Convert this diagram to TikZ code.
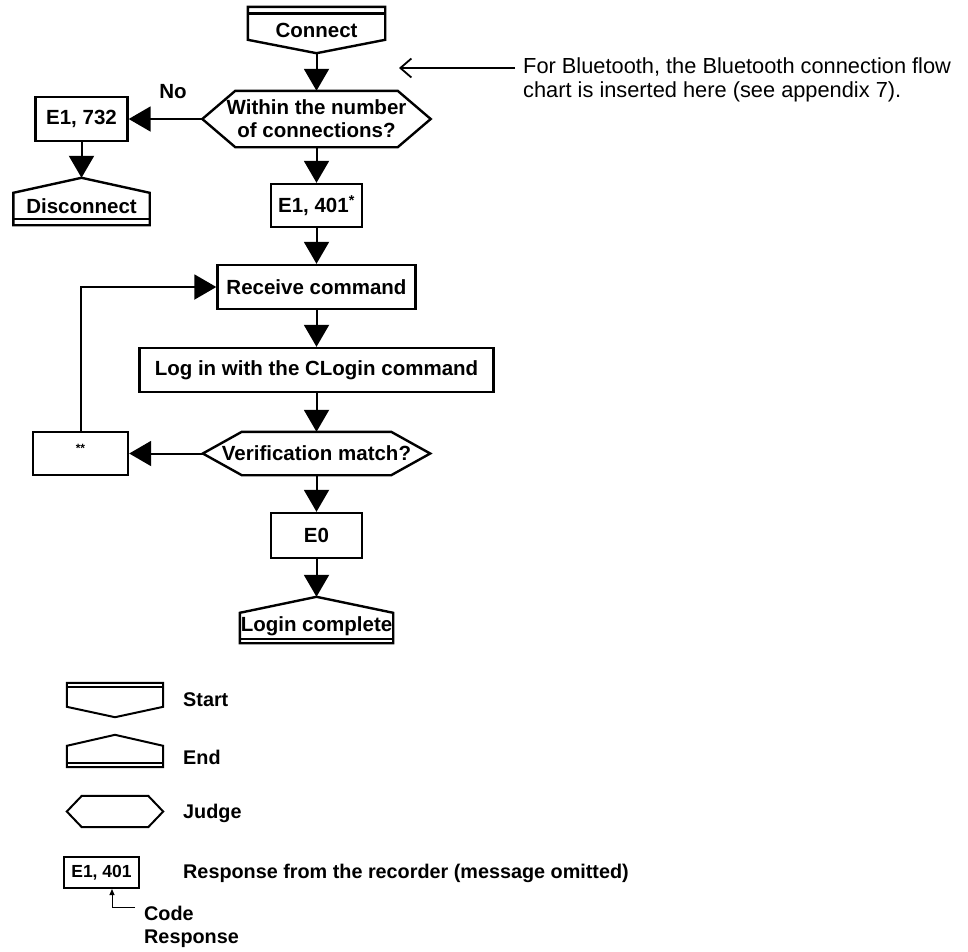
\documentclass[tikz,border=0pt]{standalone}
\usepackage{fontspec}
\setmainfont{Liberation Sans}
\usetikzlibrary{arrows.meta}
\begin{document}
\begin{tikzpicture}[x=1pt,y=-1pt,
  every node/.style={font=\bfseries\fontsize{20.5}{23}\selectfont},
  shp/.style={line width=2.4pt, line join=miter},
  box/.style={draw, line width=2.4pt, inner sep=0pt},
  txt/.style={inner sep=0pt},
  legtxt/.style={inner sep=0pt, anchor=west, font=\bfseries\fontsize{19.8}{23}\selectfont},
  arr/.style={line width=2pt, -{Triangle[length=22pt,width=25pt]}},
  lshp/.style={line width=2pt, line join=miter},
]
\useasboundingbox (0,0) rectangle (968,951);

% ---- Connect (start)
\node[txt, minimum width=137pt, minimum height=46pt] (connect) at (316.5,30) {Connect};
\draw[shp] (connect.north west) -- (connect.north east) -- ([yshift=-33pt]connect.north east)
  -- (connect.south) -- ([yshift=-33pt]connect.north west) -- cycle;
\draw[shp] ([yshift=-6.5pt]connect.north west) -- ([yshift=-6.5pt]connect.north east);

% ---- Within hexagon
\node[txt, align=center, minimum width=228pt, minimum height=56pt] (within) at (316.5,119)
  {Within the number\\of connections?};
\draw[shp] (within.west) -- ([xshift=33pt]within.north west) -- ([xshift=-33pt]within.north east)
  -- (within.east) -- ([xshift=-33pt]within.south east) -- ([xshift=33pt]within.south west) -- cycle;

% ---- E1, 732
\node[box, minimum width=92pt, minimum height=44pt] (e1732) at (81.5,119) {E1, 732};
\node[txt] (no) at (173,92) {No};

% ---- Disconnect (end)
\node[txt, minimum width=136pt, minimum height=26pt] (disc) at (81.5,206) {Disconnect};
\draw[shp] ([yshift=15pt]disc.north) -- (disc.north east) -- ([yshift=-6pt]disc.south east)
  -- ([yshift=-6pt]disc.south west) -- (disc.north west) -- cycle;
\draw[shp] (disc.south west) -- (disc.south east);

% ---- E1, 401*
\node[box, minimum width=91pt, minimum height=43pt] (e1401) at (316.5,205.5) {E1, 401\textsuperscript{*}};

% ---- Receive command
\node[box, minimum width=198pt, minimum height=44pt] (receive) at (316.5,287) {Receive command};

% ---- Log in
\node[box, minimum width=354pt, minimum height=44pt] (login) at (316.5,370) {Log in with the CLogin command};

% ---- Verification hexagon
\node[txt, minimum width=227pt, minimum height=43pt] (verif) at (316.5,453.5) {Verification match?};
\draw[shp] (verif.west) -- ([xshift=39pt]verif.north west) -- ([xshift=-39pt]verif.north east)
  -- (verif.east) -- ([xshift=-39pt]verif.south east) -- ([xshift=39pt]verif.south west) -- cycle;

% ---- ** box
\node[box, minimum width=95pt, minimum height=43pt] (star) at (80.5,453.5) {};
\node[txt, font=\bfseries\fontsize{12}{14}\selectfont] (starlbl) at ([yshift=5pt]star.center) {**};

% ---- E0
\node[box, minimum width=91pt, minimum height=45pt] (e0) at (316.5,535.5) {E0};

% ---- Login complete (end)
\node[txt, minimum width=153pt, minimum height=26pt] (complete) at (316.5,626) {Login complete};
\draw[shp] ([yshift=16pt]complete.north) -- (complete.north east) -- ([yshift=-4pt]complete.south east)
  -- ([yshift=-4pt]complete.south west) -- (complete.north west) -- cycle;
\draw[shp] (complete.south west) -- (complete.south east);

% ---- connectors
\draw[arr] (connect.south) -- (within.north);
\draw[arr] (within.west) -- (e1732.east);
\draw[arr] (e1732.south) -- ([yshift=15pt]disc.north);
\draw[arr] (within.south) -- (e1401.north);
\draw[arr] (e1401.south) -- (receive.north);
\draw[arr] (receive.south) -- (login.north);
\draw[arr] (login.south) -- (verif.north);
\draw[arr] (verif.west) -- (star.east);
\draw[arr] (star.north) |- (receive.west);
\draw[arr] (verif.south) -- (e0.north);
\draw[arr] (e0.south) -- ([yshift=16pt]complete.north);

% ---- annotation
\coordinate (annstart) at (515,68);
\coordinate (anntip) at (399,68);
\draw[line width=1.8pt, -{Straight Barb[length=11pt,width=19pt]}] (annstart) -- (anntip);
\node[txt, anchor=west, align=left, font=\fontsize{21.8}{24}\selectfont] (annot) at (523,80)
  {For Bluetooth, the Bluetooth connection flow\\chart is inserted here (see appendix 7).};

% ---- legend
\node[txt, minimum width=96pt, minimum height=34pt] (lstart) at (115,700) {};
\draw[lshp] (lstart.north west) -- (lstart.north east) -- ([yshift=-24pt]lstart.north east)
  -- (lstart.south) -- ([yshift=-24pt]lstart.north west) -- cycle;
\draw[lshp] ([yshift=-4pt]lstart.north west) -- ([yshift=-4pt]lstart.north east);
\node[legtxt] (tstart) at (183,700) {Start};

\node[txt, minimum width=96pt, minimum height=17pt] (lend) at (115,754.5) {};
\draw[lshp] ([yshift=11pt]lend.north) -- (lend.north east) -- ([yshift=-4pt]lend.south east)
  -- ([yshift=-4pt]lend.south west) -- (lend.north west) -- cycle;
\draw[lshp] (lend.south west) -- (lend.south east);
\node[legtxt] (tend) at (183,757) {End};

\node[txt, minimum width=96pt, minimum height=31pt] (ljudge) at (115,811.5) {};
\draw[lshp] (ljudge.west) -- ([xshift=15pt]ljudge.north west) -- ([xshift=-15pt]ljudge.north east)
  -- (ljudge.east) -- ([xshift=-15pt]ljudge.south east) -- ([xshift=15pt]ljudge.south west) -- cycle;
\node[legtxt] (tjudge) at (183,813) {Judge};

\node[box, line width=2pt, minimum width=75pt, minimum height=31pt,
  font=\bfseries\fontsize{17.5}{19}\selectfont] (leg401) at (101.5,872.5) {E1, 401};
\node[legtxt] (tresp) at (183,873) {Response from the recorder (message omitted)};
\coordinate (lc) at (112,907);
\coordinate (lcend) at (135,907);
\draw[line width=1pt, -{Triangle[length=6pt,width=5pt]}] (lcend) -- (lc) -- (lc |- leg401.south);
\node[legtxt, align=left] (tcode) at (144,926.5) {Code\\Response};
\end{tikzpicture}
\end{document}
